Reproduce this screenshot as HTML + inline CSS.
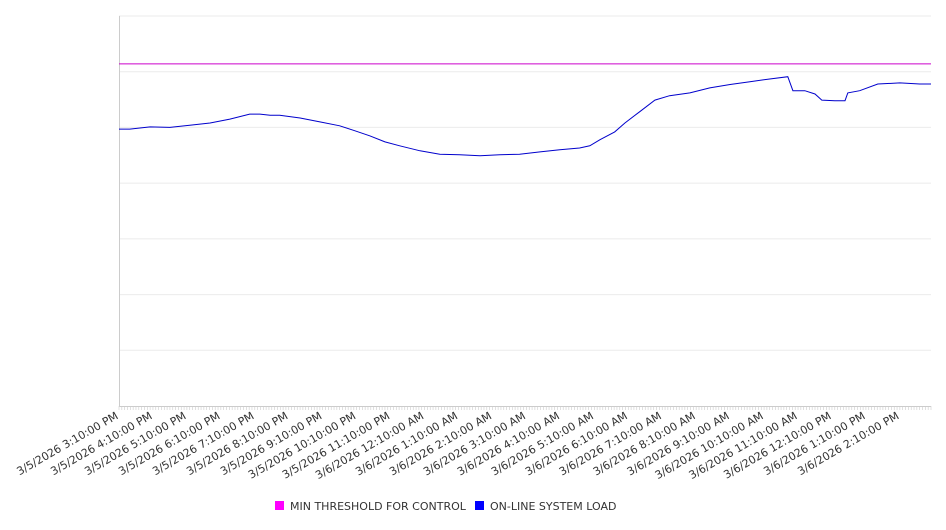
<!DOCTYPE html>
<html><head><meta charset="utf-8"><style>
body{margin:0;background:#fff;width:946px;height:526px;overflow:hidden;font-family:"DejaVu Sans","Liberation Sans",sans-serif}
</style></head><body>
<svg id="chart" width="946" height="526" xmlns="http://www.w3.org/2000/svg"></svg>
<script>
const minutes=[0,19,55,90,125,161,196,231,249,267,284,320,355,390,417,443,470,496,532,567,602,638,673,708,744,779,814,832,850,876,894,920,947,973,1009,1044,1080,1115,1150,1182,1191,1212,1230,1242,1265,1283,1288,1309,1341,1380,1415,1435];
const loadValues=[497,497,501,500,504,508,515,524,524,522,522,517,510,503,494,485,474,467,458,452,451,449,451,452,456,460,463,467,478,492,508,528,549,557,562,571,577,582,587,591,566,566,560,549,548,548,562,566,578,580,578,578];
const thresholdValue=614;
const tickLabels=["3/5/2026 3:10:00 PM","3/5/2026 4:10:00 PM","3/5/2026 5:10:00 PM","3/5/2026 6:10:00 PM","3/5/2026 7:10:00 PM","3/5/2026 8:10:00 PM","3/5/2026 9:10:00 PM","3/5/2026 10:10:00 PM","3/5/2026 11:10:00 PM","3/6/2026 12:10:00 AM","3/6/2026 1:10:00 AM","3/6/2026 2:10:00 AM","3/6/2026 3:10:00 AM","3/6/2026 4:10:00 AM","3/6/2026 5:10:00 AM","3/6/2026 6:10:00 AM","3/6/2026 7:10:00 AM","3/6/2026 8:10:00 AM","3/6/2026 9:10:00 AM","3/6/2026 10:10:00 AM","3/6/2026 11:10:00 AM","3/6/2026 12:10:00 PM","3/6/2026 1:10:00 PM","3/6/2026 2:10:00 PM"];
const yMax=700, yStep=100, xMax=1435;

const svg=document.getElementById('chart');
const NS='http://www.w3.org/2000/svg';
const L=119,R=931,T=16,B=406;
const xs=m=>L+m/xMax*(R-L);
const ys=v=>B-v/yMax*(B-T);
function mk(tag,attrs,parent){const e=document.createElementNS(NS,tag);for(const k in attrs)e.setAttribute(k,attrs[k]);(parent||svg).appendChild(e);return e;}

for(let v=yStep;v<=yMax;v+=yStep){
  const g=mk('line',{x1:L,x2:R,y1:ys(v),y2:ys(v),stroke:'#ebebeb','stroke-width':1});
  
  
}
const ax=mk('line',{x1:L+0.5,x2:L+0.5,y1:T,y2:B,stroke:'#ccc','stroke-width':1});


const bx=mk('line',{x1:L,x2:R,y1:B+0.5,y2:B+0.5,stroke:'#ccc','stroke-width':1});


for(let m=0;m<=xMax;m+=5){
  const t=mk('line',{x1:xs(m),x2:xs(m),y1:B,y2:B+4,stroke:'#ccc','stroke-width':0.6});
  
  
}
tickLabels.forEach((lab,i)=>{
  const x=xs(i*60);
  const t=mk('text',{x:x,y:B+12,'text-anchor':'end','font-size':11,fill:'#333',transform:`rotate(-30 ${x} ${B+12})`});
  t.textContent=lab;
  
  
});
const th=mk('line',{x1:L,x2:R,y1:ys(thresholdValue),y2:ys(thresholdValue),stroke:'#cc00cc','stroke-width':1});


const pts=minutes.map((m,i)=>xs(m).toFixed(1)+','+ys(loadValues[i]).toFixed(1)).join(' ');
const ln=mk('polyline',{points:pts,fill:'none',stroke:'#0000cc','stroke-width':1});



const lg=mk('g',{});


const r1=mk('rect',{x:275,y:501,width:9,height:9,fill:'#ff00ff'},lg);


const t1=mk('text',{x:290,y:510,'font-size':11,fill:'#333'},lg);
t1.textContent='MIN THRESHOLD FOR CONTROL';


const r2=mk('rect',{x:475,y:501,width:9,height:9,fill:'#0000ff'},lg);


const t2=mk('text',{x:490,y:510,'font-size':11,fill:'#333'},lg);
t2.textContent='ON-LINE SYSTEM LOAD';


</script>
</body></html>
